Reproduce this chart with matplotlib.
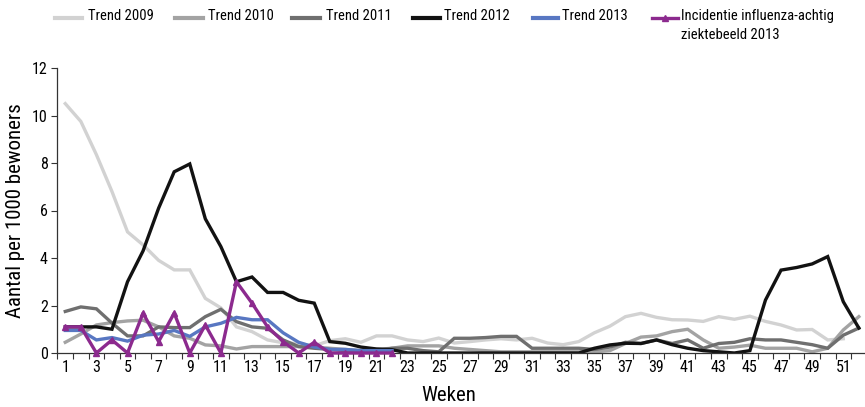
import matplotlib
matplotlib.use("Agg")
import matplotlib.pyplot as plt
from matplotlib.lines import Line2D
from matplotlib import font_manager
import numpy as np

available = {f.name for f in font_manager.fontManager.ttflist}
candidates = ['Liberation Sans Narrow', 'Roboto Condensed', 'DejaVu Sans Condensed',
              'Open Sans Condensed', 'Noto Sans Condensed', 'Lato']
chosen = next((c for c in candidates if c in available), 'DejaVu Sans')
plt.rcParams['font.family'] = [chosen, 'DejaVu Sans']

weeks = list(range(1, 53))

trend_2009 = [10.5, 9.75, 8.35, 6.8, 5.1, 4.55, 3.9, 3.5, 3.5, 2.3, 1.9, 1.1, 0.9, 0.55,
              0.43, 0.4, 0.3, 0.52, 0.6, 0.45, 0.72, 0.72, 0.55, 0.48, 0.63, 0.42, 0.48,
              0.55, 0.6, 0.55, 0.62, 0.42, 0.35, 0.48, 0.85, 1.13, 1.53, 1.67, 1.5, 1.4,
              1.39, 1.33, 1.53, 1.42, 1.55, 1.33, 1.18, 0.97, 0.99, 0.55, 0.6, None]
trend_2010 = [0.45, 0.8, 1.18, 1.28, 1.35, 1.38, 1.1, 0.72, 0.62, 0.34, 0.3, 0.17, 0.27,
              0.27, 0.27, 0.27, 0.25, 0.2, 0.15, 0.1, 0.15, 0.2, 0.3, 0.3, 0.3, 0.2, 0.15,
              0.1, 0.05, 0.05, 0.05, 0.05, 0.05, 0.05, 0.05, 0.1, 0.4, 0.67, 0.72, 0.9,
              1.0, 0.55, 0.2, 0.25, 0.33, 0.2, 0.2, 0.2, 0.05, 0.2, 0.97, 1.53]
trend_2011 = [1.75, 1.94, 1.86, 1.26, 0.72, 0.72, 1.1, 1.07, 1.07, 1.53, 1.84, 1.32, 1.1,
              1.04, 0.55, 0.27, 0.2, 0.15, 0.1, 0.1, 0.1, 0.2, 0.2, 0.1, 0.05, 0.62, 0.62,
              0.65, 0.7, 0.7, 0.2, 0.2, 0.2, 0.2, 0.15, 0.25, 0.45, 0.4, 0.55, 0.4, 0.55,
              0.2, 0.4, 0.45, 0.6, 0.55, 0.55, 0.45, 0.35, 0.2, 0.75, 1.05]
trend_2012 = [1.1, 1.1, 1.1, 1.0, 3.0, 4.3, 6.1, 7.63, 7.96, 5.65, 4.48, 3.0, 3.2, 2.55,
              2.55, 2.22, 2.1, 0.48, 0.41, 0.25, 0.17, 0.14, 0.0, 0.0, 0.0, 0.0, 0.0, 0.0,
              0.0, 0.0, 0.0, 0.0, 0.0, 0.0, 0.2, 0.34, 0.41, 0.4, 0.55, 0.35, 0.2, 0.1,
              0.05, 0.0, 0.1, 2.23, 3.49, 3.6, 3.75, 4.06, 2.16, 1.05]
trend_2013 = [0.95, 0.95, 0.55, 0.65, 0.5, 0.75, 0.8, 0.95, 0.7, 1.1, 1.25, 1.5, 1.4, 1.4,
              0.85, 0.45, 0.25, 0.15, 0.15, 0.1, 0.1, 0.1]
incidentie_2013 = [1.1, 1.1, 0.0, 0.55, 0.0, 1.68, 0.48, 1.68, 0.0, 1.18, 0.0, 3.0, 2.1,
                   1.1, 0.48, 0.0, 0.45, 0.0, 0.0, 0.0, 0.0, 0.0]

labels = ['Trend 2009', 'Trend 2010', 'Trend 2011', 'Trend 2012', 'Trend 2013',
          'Incidentie influenza-achtig\nziektebeeld 2013']
colors = ['#d2d2d2', '#a3a3a3', '#6f6f6f', '#121212', '#5877c2', '#8c2a8e']
yticks = [0, 2, 4, 6, 8, 10, 12]
xtick_weeks = list(range(1, 53, 2))

W, H = 865, 407
fig = plt.figure(figsize=(W / 100, H / 100), dpi=100)
x0 = 57.5
x1 = x0 + 52 * 15.56
ax = fig.add_axes([x0 / W, (H - 353) / H, (x1 - x0) / W, (353 - 68) / H])

series = [trend_2009, trend_2010, trend_2011, trend_2012, trend_2013]
lw = 2.4
for s, c in zip(series, colors[:5]):
    y = np.array([np.nan if v is None else v for v in s], dtype=float)
    ax.plot(weeks[:len(y)], y, color=c, lw=lw, solid_joinstyle='miter', zorder=2)
ax.plot(weeks[:len(incidentie_2013)], incidentie_2013, color=colors[5], lw=lw,
        marker='^', markersize=5, markerfacecolor=colors[5], markeredgecolor=colors[5],
        zorder=3, clip_on=False)

ax.set_xlim(0.5, 52.5)
ax.set_ylim(0, 12)
ax.set_yticks(yticks)
ax.set_yticklabels([str(v) for v in yticks], fontsize=11.5)
ax.set_xticks(xtick_weeks)
ax.set_xticklabels([str(v) for v in xtick_weeks], fontsize=11.5)
ax.set_xticks(np.arange(0.5, 53, 1), minor=True)
ax.tick_params(axis='x', which='major', length=0, pad=5)
ax.tick_params(axis='x', which='minor', length=4, width=0.8, direction='out', color='#333333')
ax.tick_params(axis='y', which='major', length=4, width=0.8, direction='out', pad=3,
               color='#333333')
for sp in ['top', 'right']:
    ax.spines[sp].set_visible(False)
for sp in ['left', 'bottom']:
    ax.spines[sp].set_color('#333333')
    ax.spines[sp].set_linewidth(0.9)

ax.set_xlabel('Weken', fontsize=15)
ax.set_ylabel('Aantal per 1000 bewoners', fontsize=15)
ax.yaxis.set_label_coords((25 - x0) / (x1 - x0), 0.5)
ax.xaxis.set_label_coords((449 - x0) / (x1 - x0), -(386 - 353) / (353 - 68))

# legend (manual, top row)
entries = [(55, 82, 88), (175, 203, 208), (292, 320, 326), (413, 440, 444),
           (533, 558, 562), (652, 678, 681)]
ly = 18
for (hs, he, tx), lab, c in zip(entries, labels, colors):
    yy = 1 - ly / H
    if c == colors[5]:
        fig.add_artist(Line2D([hs / W, he / W], [yy, yy], color=c, lw=lw,
                              transform=fig.transFigure))
        fig.add_artist(Line2D([(hs + he) / 2 / W], [yy], color=c, marker='^',
                              markersize=4, transform=fig.transFigure))
    else:
        fig.add_artist(Line2D([hs / W, he / W], [yy, yy], color=c, lw=lw + 0.6,
                              transform=fig.transFigure))
    fig.text(tx / W, 1 - (ly - 9) / H, lab, fontsize=10.5, va='top', ha='left',
             linespacing=1.45)

fig.savefig('out.png', dpi=100)
